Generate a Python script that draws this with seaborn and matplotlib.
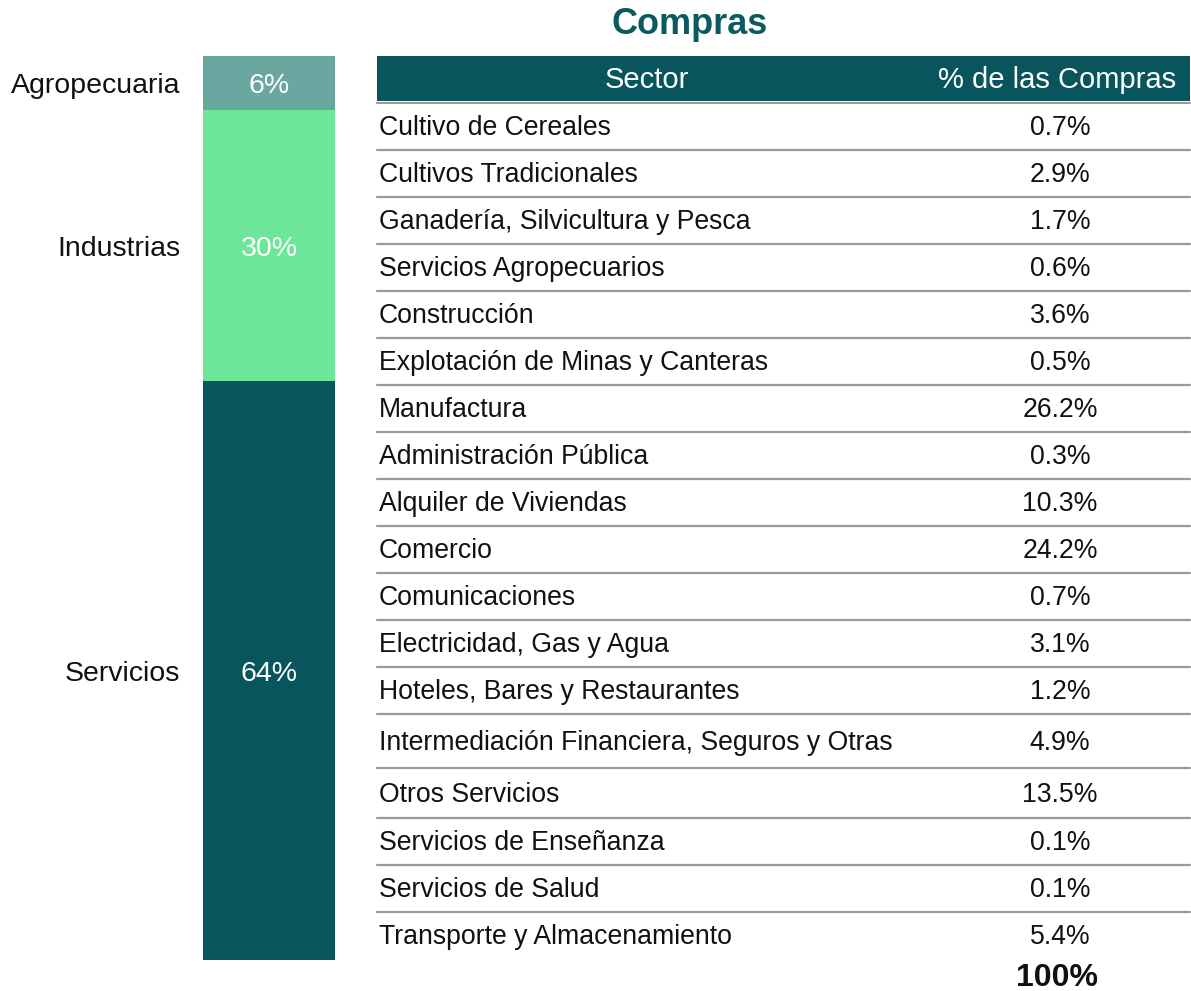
import matplotlib
matplotlib.use("Agg")
import matplotlib.pyplot as plt
import seaborn as sns
import pandas as pd

# ---------------- data ----------------
groups = ["Agropecuaria", "Industrias", "Servicios"]
group_shares = [6, 30, 64]
group_colors = ["#6aa7a0", "#6ee69a", "#08555e"]

sectors = [
    "Cultivo de Cereales", "Cultivos Tradicionales", "Ganadería, Silvicultura y Pesca",
    "Servicios Agropecuarios", "Construcción", "Explotación de Minas y Canteras",
    "Manufactura", "Administración Pública", "Alquiler de Viviendas", "Comercio",
    "Comunicaciones", "Electricidad, Gas y Agua", "Hoteles, Bares y Restaurantes",
    "Intermediación Financiera, Seguros y Otras", "Otros Servicios",
    "Servicios de Enseñanza", "Servicios de Salud", "Transporte y Almacenamiento",
]
shares = [0.7, 2.9, 1.7, 0.6, 3.6, 0.5, 26.2, 0.3, 10.3, 24.2,
          0.7, 3.1, 1.2, 4.9, 13.5, 0.1, 0.1, 5.4]
header = ["Sector", "% de las Compras"]
total_label = "100%"
title = "Compras"

# ---------------- style ----------------
sns.set_theme(style="white")
plt.rcParams["font.family"] = ["Liberation Sans", "DejaVu Sans"]

W, H = 1191, 991
fig = plt.figure(figsize=(W / 100, H / 100), dpi=100)

# full-figure pixel axes for table & labels
axp = fig.add_axes([0, 0, 1, 1])
axp.set_xlim(0, W)
axp.set_ylim(H, 0)
axp.axis("off")

# ---------------- stacked bar ----------------
bar_left, bar_right, bar_top, bar_bot = 203, 335, 56, 960
axb = fig.add_axes([bar_left / W, 1 - bar_bot / H, (bar_right - bar_left) / W,
                    (bar_bot - bar_top) / H])
cum = []
c = 0
for v in group_shares:
    c += v
    cum.append(c)
df = pd.DataFrame({"g": groups, "top": cum, "share": group_shares})
# draw from the largest cumulative so smaller overlays sit on top
for i in reversed(range(len(groups))):
    sns.barplot(x=["s"], y=[df["top"][i]], color=group_colors[i], width=1.0,
                saturation=1, ax=axb, linewidth=0)
axb.set_ylim(100, 0)
axb.set_xlim(-0.5, 0.5)
axb.axis("off")
px_per_unit = (bar_bot - bar_top) / 100
prev = 0
for g, top, v in zip(groups, cum, group_shares):
    mid = (prev + top) / 2
    axb.text(0, mid + 3 / px_per_unit, f"{v}%", ha="center", va="center",
             color="white", fontsize=20.5, zorder=10)
    ypx = bar_top + px_per_unit * mid + 3
    axp.text(180, ypx, g, ha="right", va="center", color="#111111", fontsize=20.5)
    prev = top

# ---------------- title ----------------
axp.text(690, 25, title, ha="center", va="center", color="#0a5a60",
         fontsize=26, fontweight="bold")

# ---------------- table ----------------
tx0, tx1 = 377, 1190
hdr_top, hdr_bot = 56, 101
teal = "#08555e"
axp.add_patch(plt.Rectangle((tx0, hdr_top), tx1 - tx0, hdr_bot - hdr_top,
                            color=teal, lw=0))
axp.plot([tx0, tx1], [hdr_bot + 1.5, hdr_bot + 1.5], color="#9a9a9a", lw=1.5)
axp.text(647, (hdr_top + hdr_bot) / 2 + 2, header[0], ha="center", va="center",
         color="white", fontsize=21)
axp.text(1057, (hdr_top + hdr_bot) / 2 + 2, header[1], ha="center", va="center",
         color="white", fontsize=21)

row_h = [47, 47, 47, 47, 47, 47, 47, 47, 47, 47, 47, 47, 47, 54, 50, 47, 47, 47]
y = 103
for i, (s, v) in enumerate(zip(sectors, shares)):
    h = row_h[i]
    yc = y + h / 2 + 1.5
    axp.text(379, yc, s, ha="left", va="center", color="#111111", fontsize=19.2)
    axp.text(1060, yc, f"{v:.1f}%", ha="center", va="center", color="#111111",
             fontsize=19.2)
    y += h
    if i < len(sectors) - 1:
        axp.plot([tx0, tx1], [y, y], color="#9a9a9a", lw=1.6)

axp.text(1057, 978, total_label, ha="center", va="center", color="#111111",
         fontsize=23, fontweight="bold")

fig.savefig("out.png", dpi=100)
